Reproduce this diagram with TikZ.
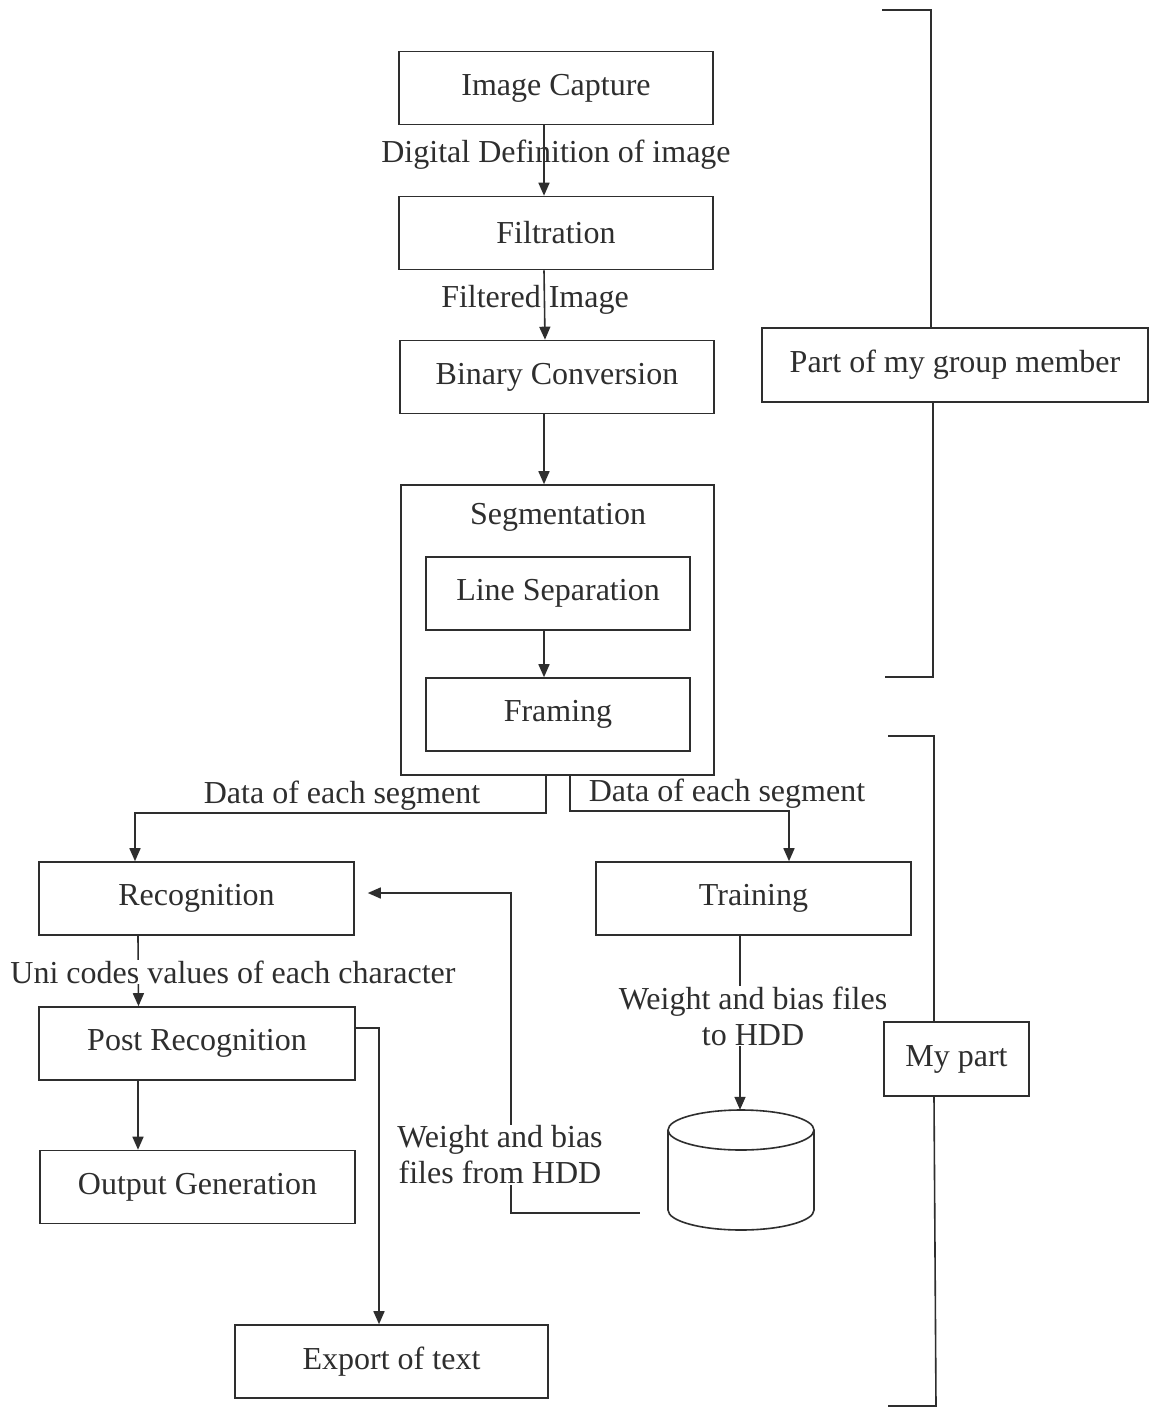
\documentclass[tikz,border=0pt]{standalone}
\usepackage{fontspec}
\setmainfont{Liberation Serif}
\usetikzlibrary{arrows.meta,calc}
\definecolor{ink}{HTML}{2E2E2E}
\begin{document}
\begin{tikzpicture}[x=1pt,y=-1pt,
  every node/.style={font=\fontsize{32}{36}\selectfont, text=ink},
  box/.style={draw=ink, line width=1.6pt, inner sep=0pt, minimum width=#1, minimum height=73pt},
  box/.default=314pt,
  lbl/.style={inner sep=2pt, align=center},
  line/.style={draw=ink, line width=1.6pt},
  arr/.style={line, -{Triangle[length=13pt,width=11pt]}}]
\useasboundingbox[fill=white] (0,0) rectangle (1153,1408);

% processing chain
\node[box] (cap)  at (556,88)   {Image Capture};
\node[box] (filt) at (556,233)  {Filtration};
\node[box] (bin)  at (557,377)  {Binary Conversion};
\node[box=313pt, minimum height=290pt] (seg) at (557.5,630) {};
\node at (558,517) (segt) {Segmentation};
\node[box=264pt] (lsep) at (558,593.5) {Line Separation};
\node[box=264pt] (fram) at (558,714.5) {Framing};

\node[box=315pt] (rec)   at (196.5,898.5) {Recognition};
\node[box=315pt] (train) at (753.5,898.5) {Training};
\node[box=316pt] (post)  at (197,1043.5)  {Post Recognition};
\node[box=315pt] (outg)  at (197.5,1187)  {Output Generation};
\node[box=313pt] (expt)  at (391.5,1361.5) {Export of text};

% hard disk
\node[minimum width=146pt, minimum height=120pt, inner sep=0pt] (hdd) at (741,1170) {};
\draw[line, fill=white] (668,1130) -- (668,1210) arc[start angle=180, end angle=0, x radius=73, y radius=20]
  -- (814,1130);
\draw[line] (741,1130) ellipse[x radius=73, y radius=20];

% flow arrows
\draw[arr] ([xshift=-12pt]cap.south) -- ([xshift=-12pt]filt.north);
\node[lbl] (l1) at (556,155) {Digital Definition of image};
\draw[arr] ([xshift=-12pt]filt.south) -- ([xshift=-12pt]bin.north);
\node[lbl] (l2) at (535,300) {Filtered Image};
\draw[arr] ([xshift=-13pt]bin.south) -- ([xshift=-13.5pt]seg.north);
\draw[arr] ([xshift=-14pt]lsep.south) -- ([xshift=-14pt]fram.north);

\draw[arr] ([xshift=-11.5pt]seg.south) -- ++(0,37) -| ([xshift=-61.5pt]rec.north);
\node[lbl] (l3) at (342,796) {Data of each segment};
\draw[arr] ([xshift=12.5pt]seg.south) -- ++(0,35) -| ([xshift=35.5pt]train.north);
\node[lbl] (l4) at (727,794) {Data of each segment};

\draw[arr] ([xshift=-58.5pt]rec.south) -- ([xshift=-58.5pt]post.north);
\node[lbl, fill=white, inner sep=1pt] (l5) at (233,972) {Uni codes values of each character};
\draw[arr] ([xshift=-59pt]post.south) -- ([xshift=-59.5pt]outg.north);
\draw[arr] ([yshift=15.5pt]post.east) -| ([xshift=-12.5pt]expt.north);

\draw[arr] ([xshift=-13.5pt]train.south) -- (hdd.north -| 740,0);
\node[lbl, fill=white, inner sep=1pt] (l6) at (753,1016) {Weight and bias files\\to HDD};

\draw[arr, shorten >=13pt] ($(hdd.west)+(-28,43)$) -| (511,893) -- ([yshift=5.5pt]rec.east);
\node[lbl, fill=white, inner sep=1pt] (l7) at (500,1155) {Weight and bias\\files from HDD};

% responsibility brackets
\node[box=386pt, minimum height=74pt] (grp) at (955,365) {Part of my group member};
\draw[line] (882,10) -| ([xshift=-24pt]grp.north);
\draw[line] ([xshift=-22pt]grp.south) |- (885,677);

\node[box=145pt, minimum height=74pt] (mine) at (956.5,1059) {My part};
\draw[line] (888,736) -| ([xshift=-22.5pt]mine.north);
\draw[line] ([xshift=-22.5pt]mine.south) -- (936,1406) -- (888,1406);
\end{tikzpicture}
\end{document}
